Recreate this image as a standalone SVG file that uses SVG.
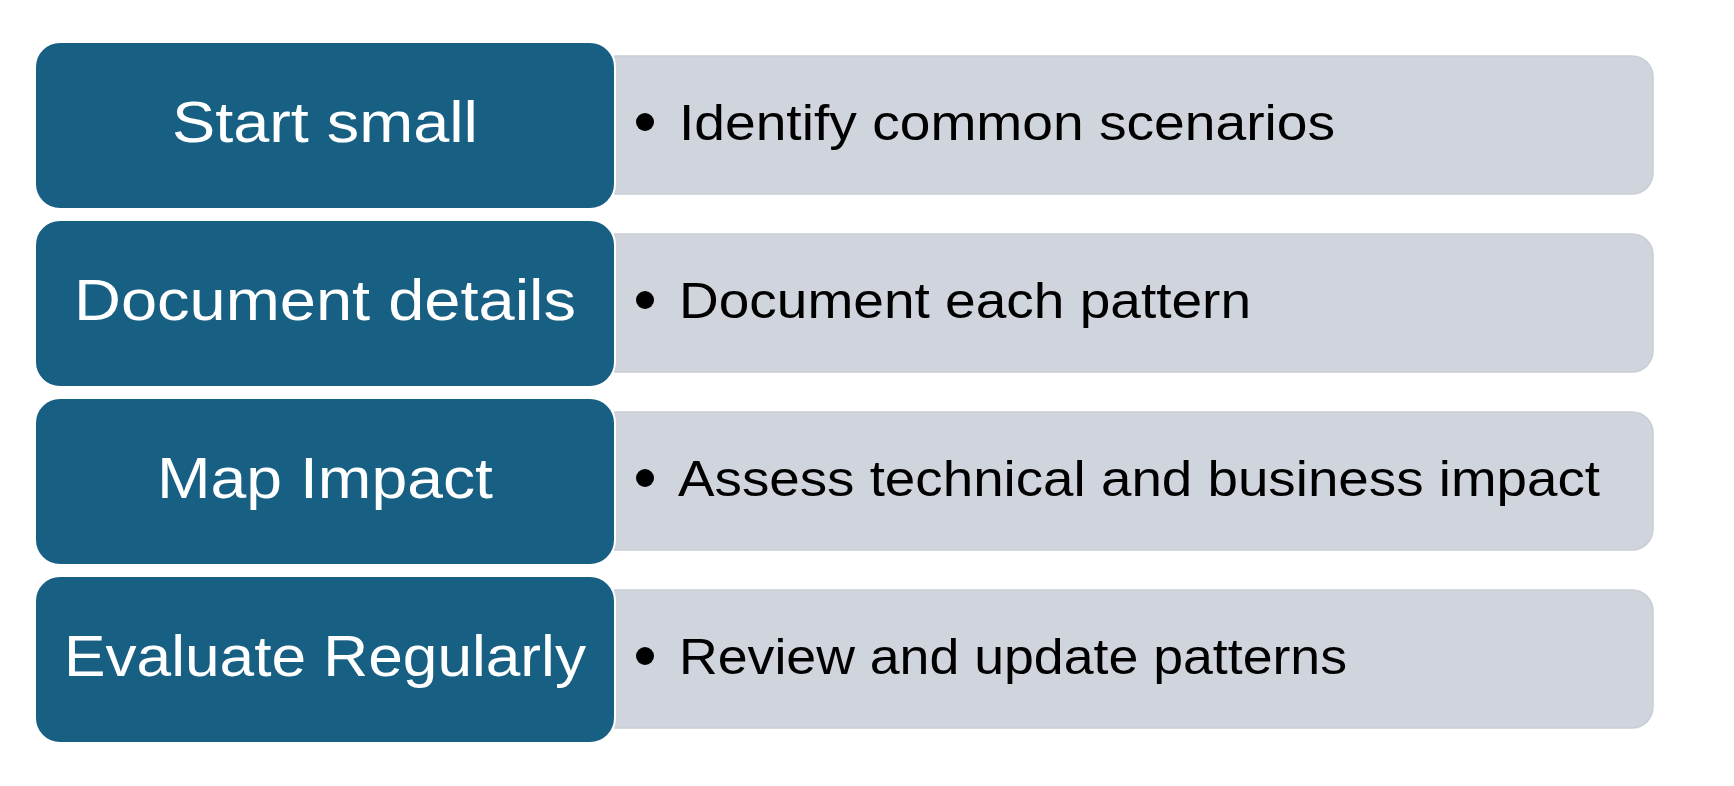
<svg xmlns="http://www.w3.org/2000/svg" width="1734" height="786" viewBox="0 0 1734 786">
<style>
.gray{fill:#D0D5DD;stroke:#C9CED6;stroke-width:1.5}
.blue{fill:#176083;stroke:#FFFFFF;stroke-width:2}
.lt{font-family:"Liberation Sans",Arial,sans-serif;font-size:57px;fill:#FFFFFF;text-anchor:middle}
.rt{font-family:"Liberation Sans",Arial,sans-serif;font-size:50px;fill:#000000}
.dot{fill:#000000}
</style>
<rect width="1734" height="786" fill="#FFFFFF"/>
<g id="row1">
<rect class="gray" x="595" y="56" width="1058" height="138" rx="21"/>
<rect class="blue" x="35" y="42" width="580" height="167" rx="25"/>
<text class="lt" x="325" y="142" textLength="306" lengthAdjust="spacingAndGlyphs">Start small</text>
<circle class="dot" cx="645" cy="122" r="9"/>
<text class="rt" x="679" y="140" textLength="656" lengthAdjust="spacingAndGlyphs">Identify common scenarios</text>
</g>
<g id="row2">
<rect class="gray" x="595" y="234" width="1058" height="138" rx="21"/>
<rect class="blue" x="35" y="220" width="580" height="167" rx="25"/>
<text class="lt" x="325" y="320" textLength="502" lengthAdjust="spacingAndGlyphs">Document details</text>
<circle class="dot" cx="645" cy="300" r="9"/>
<text class="rt" x="679" y="318" textLength="572" lengthAdjust="spacingAndGlyphs">Document each pattern</text>
</g>
<g id="row3">
<rect class="gray" x="595" y="412" width="1058" height="138" rx="21"/>
<rect class="blue" x="35" y="398" width="580" height="167" rx="25"/>
<text class="lt" x="325" y="498" textLength="336" lengthAdjust="spacingAndGlyphs">Map Impact</text>
<circle class="dot" cx="645" cy="478" r="9"/>
<text class="rt" x="678" y="496" textLength="922" lengthAdjust="spacingAndGlyphs">Assess technical and business impact</text>
</g>
<g id="row4">
<rect class="gray" x="595" y="590" width="1058" height="138" rx="21"/>
<rect class="blue" x="35" y="576" width="580" height="167" rx="25"/>
<text class="lt" x="325" y="676" textLength="522" lengthAdjust="spacingAndGlyphs">Evaluate Regularly</text>
<circle class="dot" cx="645" cy="656" r="9"/>
<text class="rt" x="679" y="674" textLength="668" lengthAdjust="spacingAndGlyphs">Review and update patterns</text>
</g>
<g id="connectors"></g>
</svg>
